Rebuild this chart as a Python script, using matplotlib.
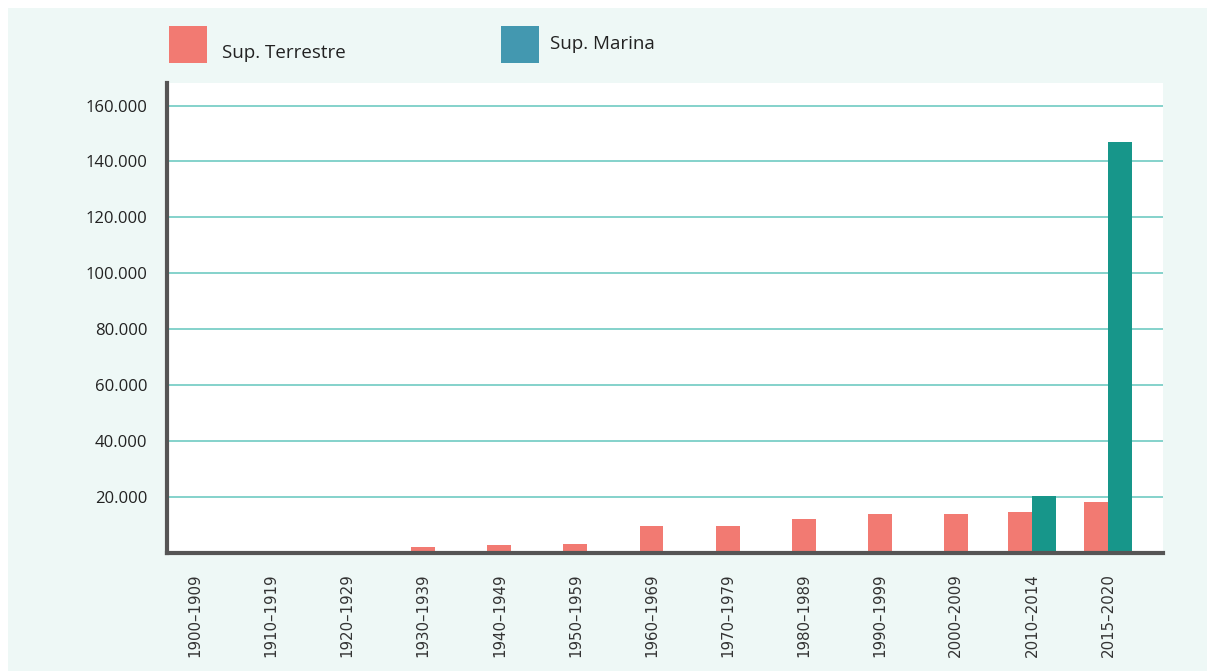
import matplotlib
matplotlib.use("Agg")
import matplotlib.pyplot as plt
from matplotlib.patches import Rectangle
import numpy as np

# superficie protegida por decada (ha)
decades = ["1900–1909", "1910–1919", "1920–1929", "1930–1939", "1940–1949",
           "1950–1959", "1960–1969", "1970–1979", "1980–1989", "1990–1999",
           "2000–2009", "2010–2014", "2015–2020"]
terrestre = [0, 0, 0, 2000, 2700, 3000, 9600, 9600, 12000, 13800, 13800, 14500, 18100]
marina = [0, 0, 0, 0, 0, 0, 0, 0, 0, 0, 0, 20200, 147000]
yticks = [20000, 40000, 60000, 80000, 100000, 120000, 140000, 160000]
ytick_labels = ["20.000", "40.000", "60.000", "80.000", "100.000", "120.000", "140.000", "160.000"]

pink = "#f27a72"
teal = "#17968a"
teal_legend = "#4398b0"
mint = "#eef8f6"
axis_grey = "#555555"

W, H = 1207, 671
fig = plt.figure(figsize=(W / 100, H / 100), dpi=100)
fig.patch.set_facecolor("white")
fig.add_artist(Rectangle((8 / W, 0), 1, (H - 8) / H, transform=fig.transFigure,
                         facecolor=mint, edgecolor="none", zorder=0))

ax = fig.add_axes([167 / W, (H - 552.5) / H, (1163 - 167) / W, (552.5 - 83) / H])
ax.set_facecolor("white")

x = np.arange(len(decades))
bw = 0.315
for i in x:
    if marina[i] > 0:
        ax.bar(i - bw / 2, terrestre[i], bw, color=pink, zorder=2)
        ax.bar(i + bw / 2, marina[i], bw, color=teal, zorder=2)
    elif terrestre[i] > 0:
        ax.bar(i, terrestre[i], bw, color=pink, zorder=2)

ax.set_xlim(-0.368, 12.723)
ax.set_ylim(0, 168100)

for v in yticks:
    ax.axhline(v, color="#84d2cb", lw=1.4, zorder=1)

ax.set_yticks(yticks)
ax.set_yticklabels(ytick_labels, fontfamily="Open Sans", fontsize=12, color="#222222")
ax.set_xticks(x)
ax.set_xticklabels(decades, rotation=90, fontfamily="DejaVu Sans", fontsize=10.8,
                   color="#333333", va="top", ha="center")
ax.tick_params(axis="both", length=0)
ax.tick_params(axis="y", pad=14)
ax.tick_params(axis="x", pad=15)

for side in ["top", "right"]:
    ax.spines[side].set_visible(False)
for side in ["left", "bottom"]:
    ax.spines[side].set_color(axis_grey)
    ax.spines[side].set_linewidth(3.0)
    ax.spines[side].set_zorder(3)

# leyenda
fig.add_artist(Rectangle((169 / W, 1 - 63 / H), 38 / W, 37 / H, transform=fig.transFigure,
                         facecolor=pink, edgecolor="none"))
fig.add_artist(Rectangle((501 / W, 1 - 63 / H), 38 / W, 37 / H, transform=fig.transFigure,
                         facecolor=teal_legend, edgecolor="none"))
fig.text(222 / W, 1 - 53 / H, "Sup. Terrestre", fontfamily="Open Sans", fontsize=13.5,
         color="#222222", va="center", ha="left")
fig.text(550 / W, 1 - 44 / H, "Sup. Marina", fontfamily="Open Sans", fontsize=13.5,
         color="#222222", va="center", ha="left")

fig.savefig("out.png", dpi=100, facecolor=fig.get_facecolor())
